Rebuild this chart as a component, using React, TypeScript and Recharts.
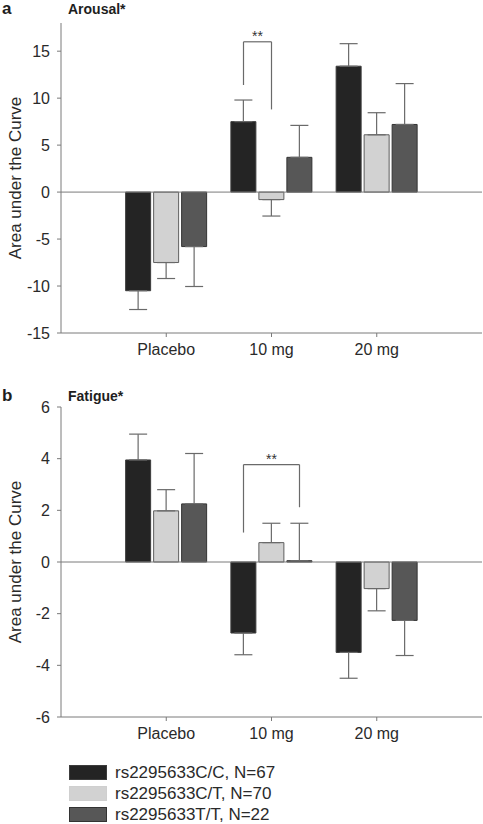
import React from "react";
import {
  BarChart,
  Bar,
  XAxis,
  YAxis,
  ErrorBar,
  ReferenceLine,
  ReferenceDot,
} from "recharts";

const categories = ["Placebo", "10 mg", "20 mg"];
const seriesNames = [
  "rs2295633C/C, N=67",
  "rs2295633C/T, N=70",
  "rs2295633T/T, N=22",
];
const seriesFills = ["#242424", "#d2d2d2", "#575757"];
const seriesStrokes = ["#3c3c3c", "#5e5e5e", "#333333"];

// Arousal (panel a)
const arousalCC = [-10.5, 7.5, 13.4];
const arousalCT = [-7.5, -0.8, 6.1];
const arousalTT = [-5.8, 3.7, 7.2];
const arousalCCErr = [2.0, 2.3, 2.4];
const arousalCTErr = [1.7, 1.75, 2.35];
const arousalTTErr = [4.25, 3.4, 4.35];
const arousalTicks = [-15, -10, -5, 0, 5, 10, 15];
const arousalDomain = [-15, 18];

// Fatigue (panel b)
const fatigueCC = [3.95, -2.75, -3.5];
const fatigueCT = [1.98, 0.75, -1.03];
const fatigueTT = [2.25, 0.05, -2.26];
const fatigueCCErr = [1.0, 0.84, 1.0];
const fatigueCTErr = [0.82, 0.75, 0.86];
const fatigueTTErr = [1.95, 1.45, 1.36];
const fatigueTicks = [-6, -4, -2, 0, 2, 4, 6];
const fatigueDomain = [-6, 6];

// significance brackets: category index, series from/to, heights
const arousalBracket = { cat: 1, from: 0, to: 1, top: 16, leftEnd: 11.4, rightEnd: 8.8, star: 16.6 };
const fatigueBracket = { cat: 1, from: 0, to: 2, top: 3.77, leftEnd: 1.14, rightEnd: 2.12, star: 4.0 };

const FONT = "'Liberation Sans', Arial, Helvetica, sans-serif";
const CHART_W = 483;
const CHART_H = 371;
const Y_W = 61;
const PLOT_W = CHART_W - Y_W - 1;
const BAR_SIZE = 25;
const BAR_GAP = 3;
const UNIT_PX = PLOT_W / 4;
const keys = ["cc", "ct", "tt"];

const withErr = (v: number, e: number) => (v < 0 ? [e, 0] : [0, e]);

const buildRows = (vals: number[][], errs: number[][]) =>
  categories.map((name, i) => {
    const row: any = { pos: i + 1, name };
    keys.forEach((k, s) => {
      row[k] = vals[s][i];
      row[k + "Err"] = withErr(vals[s][i], errs[s][i]);
    });
    return row;
  });

const arousalData = buildRows(
  [arousalCC, arousalCT, arousalTT],
  [arousalCCErr, arousalCTErr, arousalTTErr]
);
const fatigueData = buildRows(
  [fatigueCC, fatigueCT, fatigueTT],
  [fatigueCCErr, fatigueCTErr, fatigueTTErr]
);

// x (in axis units) of a given series bar centre inside a category
const barX = (cat: number, s: number) =>
  cat + 1 + ((s - 1) * (BAR_SIZE + BAR_GAP)) / UNIT_PX;

const axisColor = "#7a7a7a";

type Bracket = typeof arousalBracket;

const Panel = ({
  data,
  domain,
  ticks,
  bracket,
}: {
  data: any[];
  domain: number[];
  ticks: number[];
  bracket: Bracket;
}) => {
  const x1 = barX(bracket.cat, bracket.from);
  const x2 = barX(bracket.cat, bracket.to);
  return (
    <BarChart
      width={CHART_W}
      height={CHART_H}
      data={data}
      margin={{ top: 23, right: 1, bottom: 0, left: 0 }}
      barSize={BAR_SIZE}
      barGap={BAR_GAP}
    >
      <XAxis
        dataKey="pos"
        type="number"
        domain={[0, 4]}
        ticks={[1, 2, 3]}
        tickFormatter={(v: number) => categories[v - 1]}
        height={38}
        tickSize={4}
        tickMargin={7}
        stroke={axisColor}
        tick={{ fill: "#2a2a2a", fontSize: 16, fontFamily: FONT }}
      />
      <YAxis
        type="number"
        domain={domain}
        ticks={ticks}
        width={Y_W}
        tickSize={4}
        tickMargin={7}
        stroke={axisColor}
        allowDataOverflow
        tick={{ fill: "#2a2a2a", fontSize: 16, fontFamily: FONT }}
        label={{
          value: "Area under the Curve",
          angle: -90,
          position: "insideLeft",
          offset: 15,
          style: { textAnchor: "middle", fill: "#2a2a2a", fontSize: 17, fontFamily: FONT },
        }}
      />
      <ReferenceLine y={0} stroke={axisColor} strokeWidth={1} />
      {keys.map((k, s) => (
        <Bar
          key={k}
          dataKey={k}
          name={seriesNames[s]}
          fill={seriesFills[s]}
          stroke={seriesStrokes[s]}
          strokeWidth={1}
          isAnimationActive={false}
        >
          <ErrorBar
            dataKey={k + "Err"}
            width={9}
            stroke="#6a6a6a"
            strokeWidth={1.2}
            direction="y"
          />
        </Bar>
      ))}
      <ReferenceLine
        segment={[
          { x: x1, y: bracket.leftEnd },
          { x: x1, y: bracket.top },
        ]}
        stroke="#6a6a6a"
        strokeWidth={1.2}
      />
      <ReferenceLine
        segment={[
          { x: x1, y: bracket.top },
          { x: x2, y: bracket.top },
        ]}
        stroke="#6a6a6a"
        strokeWidth={1.2}
      />
      <ReferenceLine
        segment={[
          { x: x2, y: bracket.top },
          { x: x2, y: bracket.rightEnd },
        ]}
        stroke="#6a6a6a"
        strokeWidth={1.2}
      />
      <ReferenceDot
        x={(x1 + x2) / 2}
        y={bracket.star}
        r={0}
        fill="none"
        stroke="none"
        label={{ value: "**", position: "center", fill: "#333", fontSize: 14, fontFamily: FONT }}
      />
    </BarChart>
  );
};

const PanelTitle = ({ letter, title, top }: { letter: string; title: string; top: number }) => (
  <>
    <div
      style={{
        position: "absolute",
        left: 2,
        top: top - 1,
        fontSize: 17,
        fontWeight: "bold",
        lineHeight: 1,
        color: "#1e1e1e",
      }}
    >
      {letter}
    </div>
    <div
      style={{
        position: "absolute",
        left: 68,
        top: top + 1,
        fontSize: 14,
        fontWeight: "bold",
        lineHeight: 1,
        color: "#1e1e1e",
      }}
    >
      {title}
    </div>
  </>
);

export default function App() {
  return (
    <div
      style={{
        position: "absolute",
        left: 0,
        top: 0,
        width: 483,
        height: 824,
        background: "#fff",
        fontFamily: FONT,
        overflow: "hidden",
      }}
    >
      <PanelTitle letter="a" title="Arousal*" top={1} />
      <div style={{ position: "absolute", left: 0, top: 0 }}>
        <Panel data={arousalData} domain={arousalDomain} ticks={arousalTicks} bracket={arousalBracket} />
      </div>
      <PanelTitle letter="b" title="Fatigue*" top={388} />
      <div style={{ position: "absolute", left: 0, top: 384 }}>
        <Panel data={fatigueData} domain={fatigueDomain} ticks={fatigueTicks} bracket={fatigueBracket} />
      </div>
      <div style={{ position: "absolute", left: 69, top: 762 }}>
        {seriesNames.map((n, s) => (
          <div key={n} style={{ display: "flex", alignItems: "center", height: 21 }}>
            <div
              style={{
                width: 38,
                height: 15,
                background: seriesFills[s],
                boxSizing: "border-box",
                border: `1px solid ${s === 1 ? "#cfcfcf" : seriesStrokes[s]}`,
              }}
            />
            <span style={{ marginLeft: 8, fontSize: 17, color: "#2a2a2a", lineHeight: 1 }}>{n}</span>
          </div>
        ))}
      </div>
    </div>
  );
}
